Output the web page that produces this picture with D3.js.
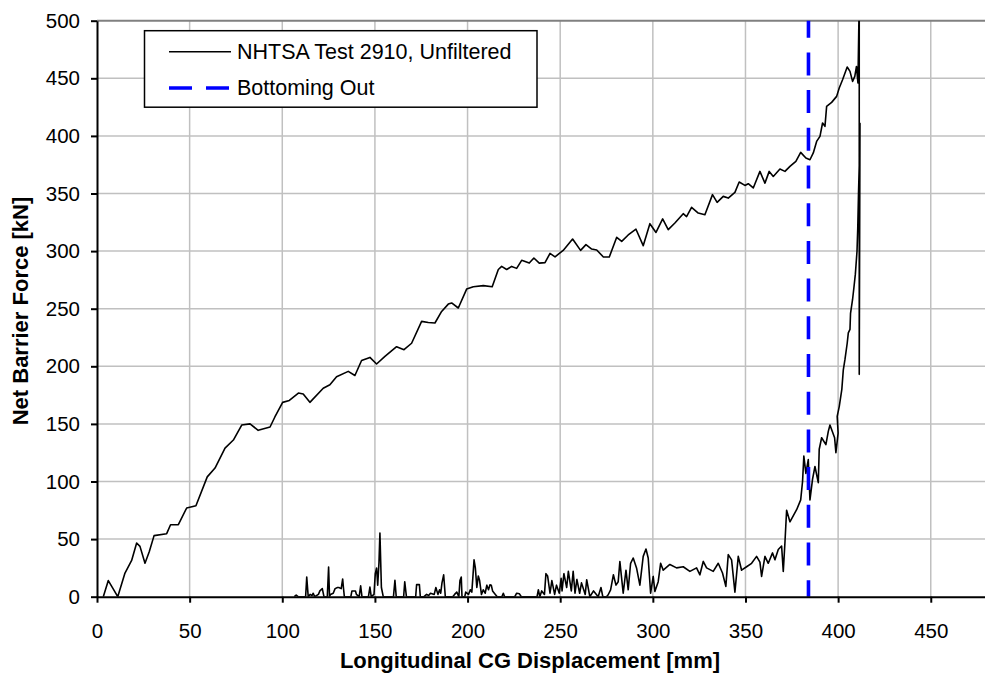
<!DOCTYPE html>
<html>
<head>
<meta charset="utf-8">
<script src="https://cdn.jsdelivr.net/npm/d3@7"></script>
<style>
  html, body { margin: 0; padding: 0; background: #fff; }
  svg { display: block; font-family: "Liberation Sans", Arial, sans-serif; }
</style>
</head>
<body>
<svg id="chart" width="985" height="675"></svg>
<script>
// ---------------- data ----------------
const xTicks = [0, 50, 100, 150, 200, 250, 300, 350, 400, 450];
const yTicks = [0, 50, 100, 150, 200, 250, 300, 350, 400, 450, 500];
const bottomingOut = 384;
const legendLabels = ["NHTSA Test 2910, Unfiltered", "Bottoming Out"];
const xTitle = "Longitudinal CG Displacement [mm]";
const yTitle = "Net Barrier Force [kN]";

// loading branch [displacement mm, force kN]
const loadingBranch = [
  [3.4,0],[6.1,14],[8.5,7.5],[11.2,0],[15.1,20.5],[18.7,31.5],[21.4,46.6],[23.2,43.7],[25.9,29],[28.2,39],
  [30.8,53],[37.6,54.7],[39.7,62.5],[43.9,62.5],[48.4,77],[53.4,79],[59.5,104],[63.7,111.7],[69.1,129],[73.6,136],
  [78.1,149],[82.6,150],[87,144.4],[93.4,147.3],[96,156],[100.2,168.7],[103.8,170.4],[108.7,176.8],[111.3,176],[114.9,168.7],
  [122.1,181],[125.7,184],[129.3,191],[135.6,195.6],[139.2,192],[142.8,205],[147.3,207.7],[150.9,202],[155.4,208.6],[161.7,217],
  [165.7,214.4],[169.8,220],[175.2,239],[178.8,238],[182.4,237.6],[186,247.6],[189.6,254],[191.4,255],[195,250.6],[199.5,267],
  [203.1,269],[208.5,270],[213.3,269],[216.6,284],[218.4,286.7],[221.1,284],[223.8,286.7],[226.5,285],[229.2,292],[233.3,289.6],
  [235.8,294],[238.7,289.6],[241.8,290],[244.5,298],[247.2,295],[251.6,300.6],[256.7,310.5],[261,300.6],[263.9,305.6],[267,301.8],
  [269.7,301],[273.3,294.9],[276.5,294.9],[280.5,312],[283.2,308.4],[286.7,314],[290.9,319],[294.8,304.7],[298.4,323.8],[301.7,316.2],
  [305.3,327.9],[308.3,318.6],[311.9,324.4],[316.4,332.5],[318.2,330],[320.9,338],[324.5,333],[328.1,331.6],[332.2,349],[334.7,342.3],
  [338,347.5],[340.7,346],[344.3,351],[346.6,360],[349.7,357],[351.5,358.5],[354.2,354.8],[357.8,369.2],[360.5,359],[362.8,369.2],
  [365,364.8],[368.6,371.2],[371.3,369.2],[374,373.5],[377.2,377.9],[379.8,385.7],[382.6,380.8],[384.8,379.3],[386.6,385.2],[388.4,395.2],
  [390.2,399.6],[391.6,411.2],[392.9,408.3],[393.8,425.6],[396.5,429.1],[399.2,434.3],[400.6,441.6],[402.4,448.8],[404.9,459.8],[406.4,456],
  [407.8,447.3],[409,451.7],[409.9,460.3],[410.7,446],[411.4,520],[411.4,193],[411.8,411]
];

// rebound branch (displacement decreasing)
const reboundBranch = [
  [411.5,380],[411,350],[410.6,320],[410.2,300],[409.3,280],[408.5,268],[407.8,258],[406.7,246],[406.4,232],[405.5,229],
  [404.9,220],[403.7,206],[402.8,197],[402,180],[400.6,165],[399.5,156.5],[400,142],[398.8,125],[398.1,138],[395.6,149],
  [394.7,143.5],[393.4,132],[391.1,138],[389.8,128],[389.3,99],[387.5,113],[386.2,102],[384.8,84],[383.9,119],[382.6,107],
  [381.5,122],[380.8,100],[379.8,84],[377.6,75.5],[374,65],[372.2,75],[371.3,47],[370.4,22],[369.5,44],[367.7,41],
  [365.9,32],[364.6,38],[362.3,29],[360.5,35],[358.7,17.6],[357.8,30],[356,35],[353.3,29],[350.6,26],[347.9,23],
  [346.1,35],[344.3,4],[342.5,32],[340.7,36.5],[339.4,9],[337.6,20.6],[335.3,29],[332.6,22],[329,25],[327.2,30.6],
  [325.4,19],[323.6,25],[320,22],[316.4,26],[312.8,25],[309.2,28],[305.6,23],[304.2,29],[302.9,13],[301.1,4.6],
  [300.2,17.6],[298.8,3],[297.5,33.6],[296.3,41.4],[294.8,35],[293,10],[291.2,25],[289.4,33.6],[288,29],[286.7,6],
  [285.5,23],[284,3],[282.2,30.6],[281.3,13],[280.1,10],[278.7,19],[277.2,6],[275.9,1.7],[275,0],
  [273,0],[272,8],[270.5,0],[268,5],[266,0],[264.3,14.7],[263.5,2],[261.5,12],[260.5,3],[259,15],
  [258,3],[257,22],[256,5],[254.4,22],[253.5,8],[252,20],[251,5],[250.5,16],[249.5,3],[248,10],
  [247,2],[245.5,14],[244.5,3],[243.2,18],[242.3,20],[241.5,2],[240,5],[239,0],[238.2,6],[237.5,0],
  [229,0],[228,2.5],[226.5,3],[225.5,0],[220,0],[219.3,3],[218.5,0],
  [216,0],[215,2],[213.5,5],[212.8,10],[212.1,10.4],[211.3,6],[210.4,10],[209.5,3],[208.5,6],[207.5,2],
  [206.5,14],[205.8,18],[205,8],[204.2,25],[203.5,32],[203,20],[202.3,4],[201.5,6],[200.5,2],[199,4],[198.5,0],
  [197,0],[196.6,17],[195.9,14],[195.3,0],[194.2,4],[193,2],[192,0],
  [188,0],[187.1,19],[186.2,12],[185.5,3],[184.9,6],[184,2],[182.9,8],[182,2],[180,3],[179,1],[177.9,2],[176.5,0],
  [174.5,0],[174,10.5],[172.5,10.5],[172,0],[167,0],[166.1,13],[165.5,0],
  [161.5,0],[160.8,14.2],[160,0],
  [154.5,0],[153.5,8],[152.7,55.3],[152.2,30],[151.5,10],[150.9,24.9],[150.2,20],[149.5,2],[148,0],
  [147.3,8.4],[146.5,0],[143,0],[142.3,9.5],[141.5,0],[140,2],[139.5,5],[138.5,5],[137.6,5],[137,0],
  [133.5,0],[133,8],[132.6,15.4],[131.8,7],[130.5,8],[129.8,8],[128.5,7],[127.5,3],[126,2],[125.5,0],
  [125,25.8],[124.3,0],[122.5,0],[121.6,7],[120.3,5],[119.5,2],[117.5,0],[116.7,3],[116,1],[115,2],
  [114,0],[113.2,17],[112.6,0],[108.5,0],[107.5,1.5],[106.5,0]
];

// ---------------- layout ----------------
const svg = d3.select("#chart");
const plot = { left: 97, top: 20.7, bottom: 596.7 };
const x = d3.scaleLinear().domain([0, 500]).range([plot.left, plot.left + 926.4]);
const y = d3.scaleLinear().domain([0, 500]).range([plot.bottom, plot.top]);

svg.append("rect").attr("width", 985).attr("height", 675).attr("fill", "#fff");

svg.append("defs").append("clipPath").attr("id", "clip")
  .append("rect").attr("x", plot.left).attr("y", plot.top)
  .attr("width", x(500) - plot.left).attr("height", plot.bottom - plot.top);

// gridlines
const grid = svg.append("g");
grid.selectAll(".vg").data(xTicks.filter(d => d > 0).concat([500])).enter().append("line")
  .attr("x1", d => x(d)).attr("x2", d => x(d))
  .attr("y1", plot.top).attr("y2", plot.bottom)
  .attr("stroke", "#c0c0c0").attr("stroke-width", 1.5);
grid.selectAll(".hg").data(yTicks.filter(d => d > 0 && d < 500)).enter().append("line")
  .attr("x1", plot.left).attr("x2", x(500))
  .attr("y1", d => y(d)).attr("y2", d => y(d))
  .attr("stroke", "#c0c0c0").attr("stroke-width", 1.5);
// top border
svg.append("line").attr("x1", plot.left).attr("x2", x(500))
  .attr("y1", y(500)).attr("y2", y(500))
  .attr("stroke", "#808080").attr("stroke-width", 2);

// data line
const line = d3.line().x(d => x(d[0])).y(d => y(d[1]));
svg.append("path")
  .datum(loadingBranch.concat(reboundBranch))
  .attr("clip-path", "url(#clip)")
  .attr("d", line)
  .attr("fill", "none").attr("stroke", "#000").attr("stroke-width", 1.6)
  .attr("stroke-linejoin", "round");

// bottoming out line
svg.append("line")
  .attr("x1", x(bottomingOut)).attr("x2", x(bottomingOut))
  .attr("y1", y(500)).attr("y2", y(0))
  .attr("stroke", "#0000ff").attr("stroke-width", 3.6)
  .attr("stroke-dasharray", "23,14.7")
  .attr("stroke-dashoffset", 6);

// axes
const xAxis = svg.append("g").attr("transform", `translate(0,${plot.bottom})`)
  .call(d3.axisBottom(x).tickValues(xTicks).tickSize(6).tickPadding(22).tickSizeOuter(0));
const yAxis = svg.append("g").attr("transform", `translate(${plot.left},0)`)
  .call(d3.axisLeft(y).tickValues(yTicks).tickSize(6).tickPadding(11).tickSizeOuter(0));
[xAxis, yAxis].forEach(a => {
  a.select(".domain").attr("stroke", "#000").attr("stroke-width", 2);
  a.selectAll(".tick line").attr("stroke", "#000").attr("stroke-width", 2);
  a.selectAll(".tick text").attr("fill", "#000")
    .style("font-family", "'Liberation Sans', Arial, sans-serif").style("font-size", "20.5px");
});
xAxis.selectAll(".tick text").attr("dy", "0.71em").attr("y", 27);

// axis titles
svg.append("text").attr("x", 530).attr("y", 668).attr("text-anchor", "middle")
  .style("font-size", "22px").style("font-weight", "bold").text(xTitle);
svg.append("text").attr("transform", "translate(28,311) rotate(-90)").attr("text-anchor", "middle")
  .style("font-size", "22px").style("font-weight", "bold").text(yTitle);

// legend
const lg = svg.append("g");
lg.append("rect").attr("x", 144.5).attr("y", 30.7).attr("width", 392.5).attr("height", 76.5)
  .attr("fill", "#fff").attr("stroke", "#000").attr("stroke-width", 1.5);
lg.append("line").attr("x1", 169).attr("x2", 231).attr("y1", 51.7).attr("y2", 51.7)
  .attr("stroke", "#000").attr("stroke-width", 1.6);
lg.append("line").attr("x1", 169).attr("x2", 231).attr("y1", 88).attr("y2", 88)
  .attr("stroke", "#0000ff").attr("stroke-width", 3.6).attr("stroke-dasharray", "23,14");
lg.selectAll(".lt").data(legendLabels).enter().append("text")
  .attr("x", 237).attr("y", (d, i) => 58.7 + i * 36.5)
  .style("font-size", "21.5px").text(d => d);
</script>
</body>
</html>
